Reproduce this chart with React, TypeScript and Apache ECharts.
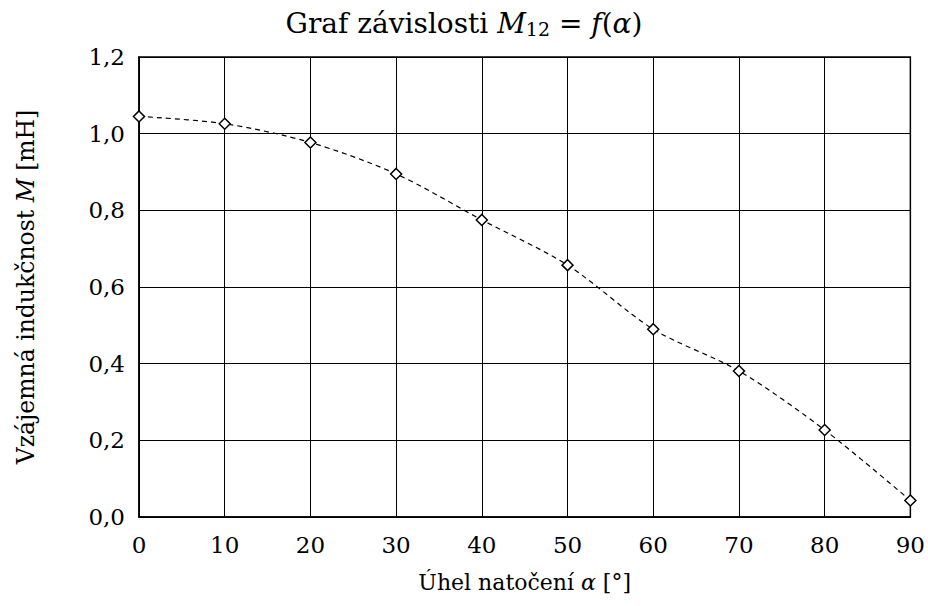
import React, { useEffect, useRef } from "react";
import * as echarts from "echarts";

const angles = [0, 10, 20, 30, 40, 50, 60, 70, 80, 90];
const inductance = [1.045, 1.026, 0.977, 0.895, 0.775, 0.657, 0.49, 0.381, 0.227, 0.043];

const FONT = "DejaVu Serif";

export default function App() {
  const ref = useRef<HTMLDivElement>(null);
  useEffect(() => {
    const chart = echarts.init(ref.current!, null, { renderer: "svg" });
    const txt = (size: number) => ({
      n: { fontFamily: FONT, fontSize: size, fontWeight: "normal", color: "#000" },
      i: { fontFamily: FONT, fontSize: size, fontStyle: "italic", fontWeight: "normal", color: "#000" },
    });
    chart.setOption({
      animation: false,
      backgroundColor: "#fff",
      textStyle: { fontFamily: FONT },
      title: {
        text: "{n|Graf závislosti }{i|M}{s|12}{n| = }{i|f}{n|(}{i|α}{n|)}",
        left: "center",
        top: 3,
        textStyle: {
          fontFamily: FONT,
          fontWeight: "normal",
          rich: {
            ...txt(28),
            s: { fontFamily: FONT, fontSize: 19, fontWeight: "normal", color: "#000", padding: [11, 0, 0, 0] },
          },
        },
      },
      grid: {
        left: 139,
        right: 15,
        top: 57,
        bottom: 89,
        show: true,
        borderColor: "#000",
        borderWidth: 1.5,
      },
      xAxis: {
        type: "value",
        min: 0,
        max: 90,
        interval: 10,
        name: "{n|Úhel natočení }{i|α}{n| [°]}",
        nameLocation: "middle",
        nameGap: 54,
        nameTextStyle: { fontFamily: FONT, rich: txt(22) },
        axisLine: { show: true, lineStyle: { color: "#000", width: 1.5 } },
        axisTick: { show: true, inside: true, length: 8, lineStyle: { color: "#000" } },
        axisLabel: { color: "#000", fontFamily: FONT, fontSize: 23, margin: 16 },
        splitLine: { show: true, lineStyle: { color: "#000", width: 1 } },
      },
      yAxis: {
        type: "value",
        min: 0,
        max: 1.2,
        interval: 0.2,
        name: "{n|Vzájemná indukčnost }{i|M}{n| [mH]}",
        nameLocation: "middle",
        nameGap: 101,
        nameRotate: 90,
        nameTextStyle: { fontFamily: FONT, rich: txt(23.5) },
        axisLine: { show: true, lineStyle: { color: "#000", width: 1.5 } },
        axisTick: { show: true, inside: true, length: 8, lineStyle: { color: "#000" } },
        axisLabel: {
          color: "#000",
          fontFamily: FONT,
          fontSize: 23,
          margin: 14,
          formatter: (v: number) => v.toFixed(1).replace(".", ","),
        },
        splitLine: { show: true, lineStyle: { color: "#000", width: 1 } },
      },
      series: [
        {
          type: "line",
          data: angles.map((a, i) => [a, inductance[i]]),
          smooth: 0.3,
          symbol: "diamond",
          symbolSize: 11,
          showAllSymbol: true,
          lineStyle: { color: "#000", width: 1.2, type: [5, 4] },
          itemStyle: { color: "#fff", borderColor: "#000", borderWidth: 1.5 },
        },
      ],
    });
    return () => chart.dispose();
  }, []);
  return (
    <div
      ref={ref}
      style={{ position: "fixed", left: 0, top: 0, width: 928, height: 606 }}
    />
  );
}
